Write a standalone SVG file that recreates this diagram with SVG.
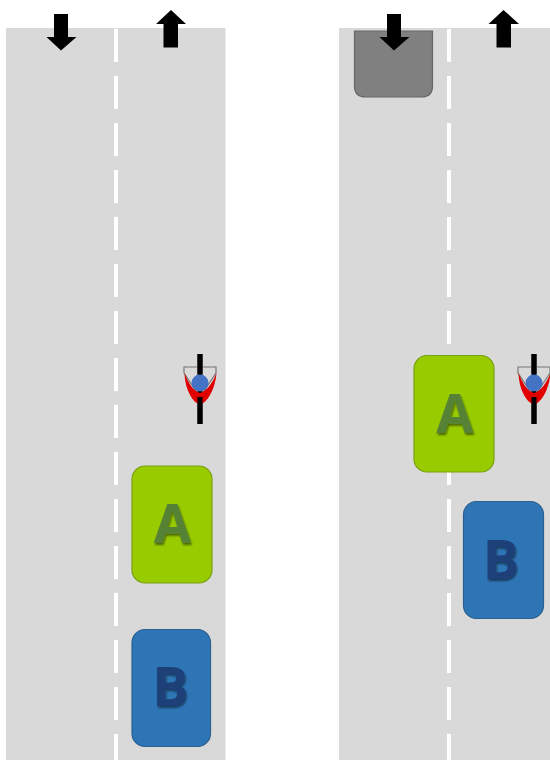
<svg xmlns="http://www.w3.org/2000/svg" width="550" height="760" viewBox="0 0 550 760">
<style>
.road{fill:#d9d9d9}
.dash{stroke:#fff;stroke-width:4;stroke-dasharray:33 14;fill:none}
.arrow{fill:#000}
.carA{fill:#99cc00;stroke:#7a9f10;stroke-width:1.2}
.carB{fill:#2e75b6;stroke:#2a6090;stroke-width:1.2}
.truck{fill:#808080;stroke:#666;stroke-width:1.2}
.lbl{font-family:"Open Sans","DejaVu Sans",sans-serif;font-weight:700;font-size:54px;text-anchor:middle;filter:url(#sh)}
.la{fill:#548235}
.lb{fill:#1f3f77}
</style>
<defs>
<filter id="sh" x="-30%" y="-30%" width="160%" height="160%"><feGaussianBlur in="SourceAlpha" stdDeviation="1"/><feOffset dx="1" dy="1.5"/><feComponentTransfer><feFuncA type="linear" slope="0.5"/></feComponentTransfer><feMerge><feMergeNode/><feMergeNode in="SourceGraphic"/></feMerge></filter>
<g id="bike">
<rect x="-2.5" y="-29" width="5" height="70" fill="#000"/>
<path d="M-16 -16H16V-10L0 14L-16 -10Z" fill="none" stroke="#777" stroke-width="1.2"/>
<path d="M-15.500 -10C-15 8 -6 21 0 21C6 21 15 8 16.500 -10C13 -1 7 8 0 10C-7 8 -12 -1 -15.500 -10Z" fill="#e00000"/>
<rect x="-2.500" y="-29" width="5" height="20" fill="#000"/>
<rect x="-2.500" y="14" width="5" height="27" fill="#000"/>
<circle r="8.500" fill="#4472c4"/>
</g>
</defs>
<g id="road-left"><rect class="road" x="6" y="28" width="219.500" height="732"/><line class="dash" x1="116" y1="29" x2="116" y2="760"/></g>
<g id="road-right"><rect class="road" x="339" y="28" width="211" height="732"/><line class="dash" x1="449" y1="29" x2="449" y2="760"/></g>
<g id="truck"><path class="truck" d="M354.500 31H432.500V86Q432.500 97 421.500 97H365.500Q354.500 97 354.500 86Z"/></g>
<g id="arrow-left-down"><path class="arrow" d="M54 14H68V37H76.500L61 50.500L46.500 37H54Z"/></g>
<g id="arrow-left-up"><path class="arrow" d="M163.500 47.500H178V24H186L171 10L156 24H163.500Z"/></g>
<g id="arrow-right-down"><path class="arrow" d="M387 14H401V37H409.500L394 50.500L379.500 37H387Z"/></g>
<g id="arrow-right-up"><path class="arrow" d="M496.500 47.500H511V24H519L503.500 10L488.500 24H496.500Z"/></g>
<g id="bike-left"><use href="#bike" x="200" y="383"/></g>
<g id="bike-right"><use href="#bike" x="534" y="383"/></g>
<g id="car-a-left"><rect class="carA" x="132" y="466" width="80" height="117" rx="13"/><text class="lbl la" x="172.500" y="543">A</text></g>
<g id="car-b-left"><rect class="carB" x="132" y="629.500" width="78.500" height="117" rx="13"/><text class="lbl lb" x="170.500" y="706">B</text></g>
<g id="car-a-right"><rect class="carA" x="414" y="355.500" width="80" height="116.500" rx="13"/><text class="lbl la" x="455" y="433">A</text></g>
<g id="car-b-right"><rect class="carB" x="463.500" y="501.500" width="80" height="117" rx="13"/><text class="lbl lb" x="501" y="579">B</text></g>
</svg>
